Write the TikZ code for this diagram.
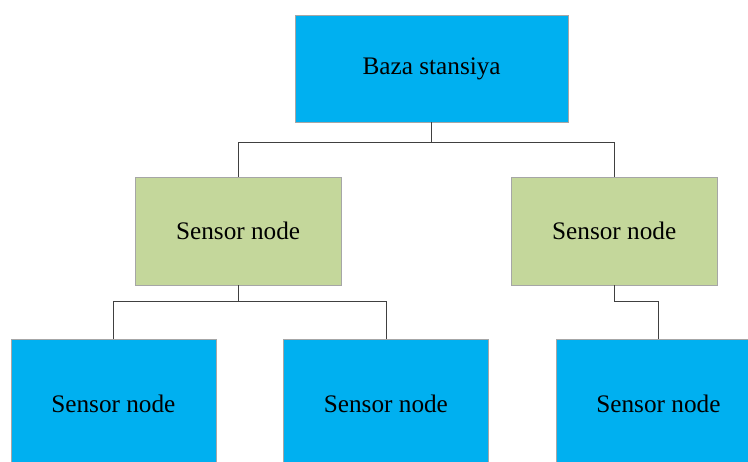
\documentclass[tikz,border=0pt]{standalone}
\usepackage{fontspec}
\setmainfont{Liberation Serif}
\usepackage{xcolor}

\definecolor{baseblue}{HTML}{00B0F0}
\definecolor{nodegreen}{HTML}{C4D79B}

\begin{document}
\begin{tikzpicture}[
  every node/.style={font=\fontsize{19}{22}\selectfont},
  box/.style={draw=black!35, line width=0.4pt, align=center, inner sep=0pt},
  basebox/.style={box, fill=baseblue, minimum width=7.22cm, minimum height=2.83cm},
  midbox/.style={box, fill=nodegreen, minimum width=5.45cm, minimum height=2.86cm},
  leafbox/.style={box, fill=baseblue, minimum width=5.42cm, minimum height=3.44cm},
  link/.style={draw=black!75, line width=0.6pt},
]

\clip (0,0) rectangle (19.79,12.20);

\node[basebox] (base) at (11.42,10.39) {Baza stansiya};

\node[midbox] (s1) at (6.30,6.09) {Sensor node};
\node[midbox] (s2) at (16.25,6.09) {Sensor node};

\node[leafbox] (s11) at (3.00,1.51) {Sensor node};
\node[leafbox] (s12) at (10.21,1.51) {Sensor node};
\node[leafbox] (s21) at (17.42,1.51) {Sensor node};

% tree links
\draw[link] (base.south) -- ++(0,-0.53) -| (s1.north);
\draw[link] (base.south) -- ++(0,-0.53) -| (s2.north);

\draw[link] (s1.south) -- ++(0,-0.42) -| (s11.north);
\draw[link] (s1.south) -- ++(0,-0.42) -| (s12.north);

\draw[link] (s2.south) -- ++(0,-0.42) -| (s21.north);

\end{tikzpicture}
\end{document}
